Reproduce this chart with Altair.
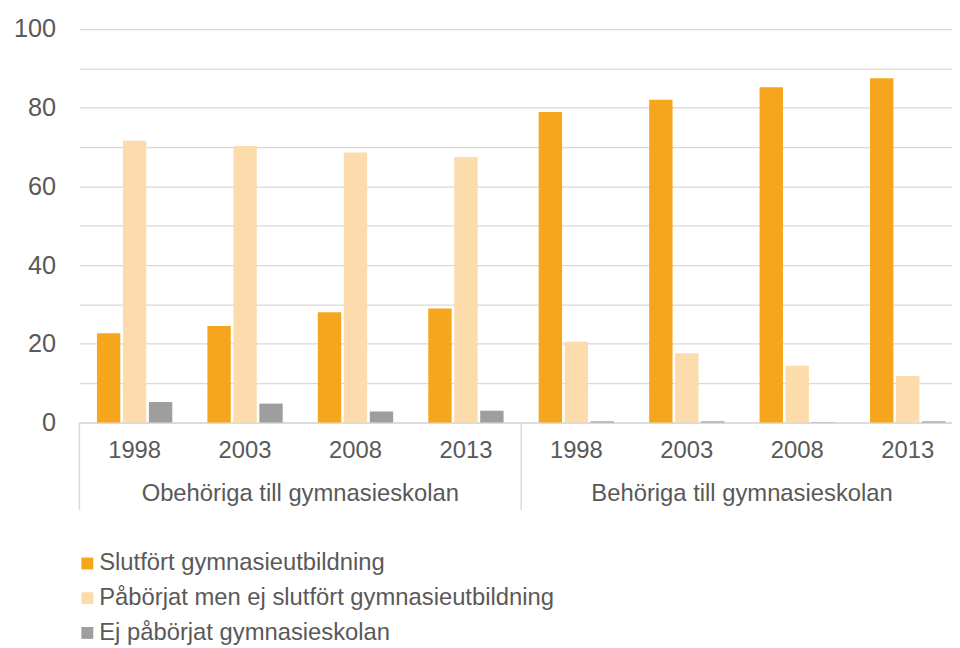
import altair as alt
import pandas as pd

groups = ["Obehöriga till gymnasieskolan", "Behöriga till gymnasieskolan"]
years = ["1998", "2003", "2008", "2013"]
series = [
    "Slutfört gymnasieutbildning",
    "Påbörjat men ej slutfört gymnasieutbildning",
    "Ej påbörjat gymnasieskolan",
]
# values per series, ordered group1 years..., group2 years...
slutfort = [22.7, 24.5, 28.0, 29.0, 78.9, 82.0, 85.2, 87.5]
paborjat = [71.6, 70.3, 68.6, 67.5, 20.5, 17.6, 14.4, 11.8]
ej_paborjat = [5.2, 4.8, 2.8, 3.0, 0.3, 0.3, 0.1, 0.3]
y_ticks = [0, 10, 20, 30, 40, 50, 60, 70, 80, 90, 100]

colors = ["#F5A61C", "#FCDCAD", "#9E9E9E"]
FONT = "Liberation Sans"
TXT = "#595959"
GRID = "#D9D9D9"

keys = [f"{g}|{y}" for g in groups for y in years]
rows = []
for s, vals in zip(series, [slutfort, paborjat, ej_paborjat]):
    for k, v in zip(keys, vals):
        rows.append({"key": k, "series": s, "value": v})
df = pd.DataFrame(rows)
gdf = pd.DataFrame({"group": groups})

W = 891
H = 396.8

bars = alt.Chart(df).mark_bar().encode(
    x=alt.X(
        "key:N",
        sort=keys,
        scale=alt.Scale(paddingInner=0.318, paddingOuter=0.159),
        axis=alt.Axis(
            title=None,
            labelExpr="split(datum.label, '|')[1]",
            labelAngle=0,
            labelFont=FONT,
            labelFontSize=24,
            labelColor=TXT,
            labelPadding=16,
            ticks=False,
            domainColor=GRID,
            domainWidth=1.5,
            grid=False,
        ),
    ),
    xOffset=alt.XOffset("series:N", sort=series, scale=alt.Scale(paddingInner=0.1)),
    y=alt.Y(
        "value:Q",
        scale=alt.Scale(domain=[0, 100], nice=False),
        axis=alt.Axis(
            title=None,
            values=y_ticks,
            labelExpr="datum.value % 20 === 0 ? datum.label : ''",
            labelFont=FONT,
            labelFontSize=25.5,
            labelColor=TXT,
            labelPadding=24,
            ticks=False,
            domain=False,
            gridColor=GRID,
            gridWidth=1.3,
        ),
    ),
    color=alt.Color(
        "series:N",
        sort=series,
        scale=alt.Scale(domain=series, range=colors),
        legend=alt.Legend(
            title=None,
            orient="none",
            legendX=-4,
            legendY=527,
            direction="vertical",
            symbolType="square",
            symbolSize=144,
            symbolStrokeWidth=0,
            labelFont=FONT,
            labelFontSize=24,
            labelColor=TXT,
            labelOffset=0,
            rowPadding=11,
            labelLimit=800,
        ),
    ),
)

seps = alt.Chart(gdf).mark_rule(color=GRID, strokeWidth=1.5).encode(
    x=alt.X(
        "group:N",
        sort=groups,
        bandPosition=0,
        scale=alt.Scale(paddingInner=0, paddingOuter=0),
        axis=None,
    ),
    y=alt.value(H),
    y2=alt.value(485),
)

glabels = alt.Chart(gdf).mark_text(
    font=FONT, fontSize=24, color=TXT, baseline="middle", align="center"
).encode(
    x=alt.X(
        "group:N",
        sort=groups,
        scale=alt.Scale(paddingInner=0, paddingOuter=0),
        axis=None,
    ),
    y=alt.value(468.5),
    text="group:N",
)

chart = (
    alt.layer(bars, seps, glabels)
    .resolve_scale(x="independent")
    .properties(
        width=W,
        height=H,
        autosize=alt.AutoSizeParams(type="none"),
        padding={"left": 72, "top": 18.5, "right": -11, "bottom": 224.7},
    )
    .configure_view(stroke=None)
)

chart.save("out.html", embed_options={"renderer": "svg", "actions": False})
